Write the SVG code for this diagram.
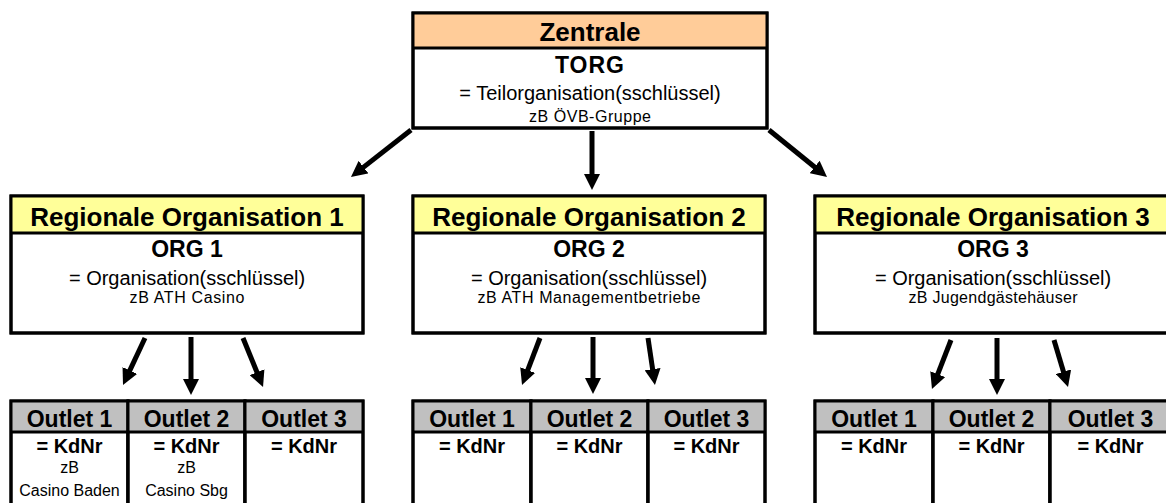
<svg xmlns="http://www.w3.org/2000/svg" width="1166" height="503" viewBox="0 0 1166 503">
  <style>
    text { font-family: "Liberation Sans", Arial, sans-serif; fill: #000; text-anchor: middle; }
    .box { fill: #fff; stroke: #000; stroke-width: 3; }
    .hdrZ { fill: #FFCC99; }
    .hdrR { fill: #FFFF99; }
    .hdrO { fill: #C0C0C0; }
    .sep { stroke: #000; stroke-width: 3; }
    .outline { fill: none; stroke: #000; stroke-width: 3; }
    .title { font-size: 26px; font-weight: bold; }
    .code { font-size: 23px; font-weight: bold; }
    .desc { font-size: 20px; }
    .ex { font-size: 16px; }
    .otitle { font-size: 23px; font-weight: bold; }
    .kd { font-size: 20px; font-weight: bold; }
    .arrow { stroke: #000; stroke-width: 5; fill: none; marker-end: url(#ah); }
  </style>
  <defs>
    <marker id="ah" markerUnits="userSpaceOnUse" markerWidth="16" markerHeight="16" viewBox="0 -8 16 16" refX="4" refY="0" orient="auto">
      <path d="M0,-8 L16,0 L0,8 z" fill="#000"/>
    </marker>
  </defs>

  <g id="zentrale">
    <rect class="box" x="413" y="13" width="354" height="115"/>
    <rect class="hdrZ" x="413" y="13" width="354" height="35"/>
    <line class="sep" x1="413" y1="48" x2="767" y2="48"/>
    <rect class="outline" x="413" y="13" width="354" height="115"/>
    <text class="title" x="590" y="41">Zentrale</text>
    <text class="code" x="590" y="73" letter-spacing="1">TORG</text>
    <text class="desc" x="590" y="100">= Teilorganisation(sschlüssel)</text>
    <text class="ex" x="590" y="122" textLength="122" lengthAdjust="spacing">zB ÖVB-Gruppe</text>
  </g>

  <g id="org1">
    <rect class="box" x="11" y="196" width="352" height="137"/>
    <rect class="hdrR" x="11" y="196" width="352" height="37"/>
    <line class="sep" x1="11" y1="233" x2="363" y2="233"/>
    <rect class="outline" x="11" y="196" width="352" height="137"/>
    <text class="title" x="187" y="226">Regionale Organisation 1</text>
    <text class="code" x="187" y="257">ORG 1</text>
    <text class="desc" x="187" y="285">= Organisation(sschlüssel)</text>
    <text class="ex" x="187" y="303" textLength="115" lengthAdjust="spacing">zB ATH Casino</text>
  </g>

  <g id="org2">
    <rect class="box" x="413" y="196" width="352" height="137"/>
    <rect class="hdrR" x="413" y="196" width="352" height="37"/>
    <line class="sep" x1="413" y1="233" x2="765" y2="233"/>
    <rect class="outline" x="413" y="196" width="352" height="137"/>
    <text class="title" x="589" y="226">Regionale Organisation 2</text>
    <text class="code" x="589" y="257">ORG 2</text>
    <text class="desc" x="589" y="285">= Organisation(sschlüssel)</text>
    <text class="ex" x="589" y="303" textLength="223" lengthAdjust="spacing">zB ATH Managementbetriebe</text>
  </g>

  <g id="org3">
    <rect class="box" x="815" y="196" width="356" height="137"/>
    <rect class="hdrR" x="815" y="196" width="356" height="37"/>
    <line class="sep" x1="815" y1="233" x2="1171" y2="233"/>
    <rect class="outline" x="815" y="196" width="356" height="137"/>
    <text class="title" x="993" y="226">Regionale Organisation 3</text>
    <text class="code" x="993" y="257">ORG 3</text>
    <text class="desc" x="993" y="285">= Organisation(sschlüssel)</text>
    <text class="ex" x="993" y="303" textLength="169" lengthAdjust="spacing">zB Jugendgästehäuser</text>
  </g>

  <!-- Outlets row 1 -->
  <g id="org1-outlet1">
    <rect class="box" x="11" y="401" width="117" height="110"/>
    <rect class="hdrO" x="11" y="401" width="117" height="31"/>
    <line class="sep" x1="11" y1="432" x2="128" y2="432"/>
    <rect class="outline" x="11" y="401" width="117" height="110"/>
    <text class="otitle" x="69.5" y="427">Outlet 1</text>
    <text class="kd" x="69.5" y="453">= KdNr</text>
    <text class="ex" x="69.5" y="473">zB</text>
    <text class="ex" x="69.5" y="496">Casino Baden</text>
  </g>
  <g id="org1-outlet2">
    <rect class="box" x="128" y="401" width="117" height="110"/>
    <rect class="hdrO" x="128" y="401" width="117" height="31"/>
    <line class="sep" x1="128" y1="432" x2="245" y2="432"/>
    <rect class="outline" x="128" y="401" width="117" height="110"/>
    <text class="otitle" x="186.5" y="427">Outlet 2</text>
    <text class="kd" x="186.5" y="453">= KdNr</text>
    <text class="ex" x="186.5" y="473">zB</text>
    <text class="ex" x="186.5" y="496">Casino Sbg</text>
  </g>
  <g id="org1-outlet3">
    <rect class="box" x="245" y="401" width="118" height="110"/>
    <rect class="hdrO" x="245" y="401" width="118" height="31"/>
    <line class="sep" x1="245" y1="432" x2="363" y2="432"/>
    <rect class="outline" x="245" y="401" width="118" height="110"/>
    <text class="otitle" x="304" y="427">Outlet 3</text>
    <text class="kd" x="304" y="453">= KdNr</text>
  </g>

  <!-- Outlets row 2 -->
  <g id="org2-outlet1">
    <rect class="box" x="413" y="401" width="118" height="110"/>
    <rect class="hdrO" x="413" y="401" width="118" height="31"/>
    <line class="sep" x1="413" y1="432" x2="531" y2="432"/>
    <rect class="outline" x="413" y="401" width="118" height="110"/>
    <text class="otitle" x="472" y="427">Outlet 1</text>
    <text class="kd" x="472" y="453">= KdNr</text>
  </g>
  <g id="org2-outlet2">
    <rect class="box" x="531" y="401" width="117" height="110"/>
    <rect class="hdrO" x="531" y="401" width="117" height="31"/>
    <line class="sep" x1="531" y1="432" x2="648" y2="432"/>
    <rect class="outline" x="531" y="401" width="117" height="110"/>
    <text class="otitle" x="589.5" y="427">Outlet 2</text>
    <text class="kd" x="589.5" y="453">= KdNr</text>
  </g>
  <g id="org2-outlet3">
    <rect class="box" x="648" y="401" width="117" height="110"/>
    <rect class="hdrO" x="648" y="401" width="117" height="31"/>
    <line class="sep" x1="648" y1="432" x2="765" y2="432"/>
    <rect class="outline" x="648" y="401" width="117" height="110"/>
    <text class="otitle" x="706.5" y="427">Outlet 3</text>
    <text class="kd" x="706.5" y="453">= KdNr</text>
  </g>

  <!-- Outlets row 3 -->
  <g id="org3-outlet1">
    <rect class="box" x="815" y="401" width="118" height="110"/>
    <rect class="hdrO" x="815" y="401" width="118" height="31"/>
    <line class="sep" x1="815" y1="432" x2="933" y2="432"/>
    <rect class="outline" x="815" y="401" width="118" height="110"/>
    <text class="otitle" x="874" y="427">Outlet 1</text>
    <text class="kd" x="874" y="453">= KdNr</text>
  </g>
  <g id="org3-outlet2">
    <rect class="box" x="933" y="401" width="117" height="110"/>
    <rect class="hdrO" x="933" y="401" width="117" height="31"/>
    <line class="sep" x1="933" y1="432" x2="1050" y2="432"/>
    <rect class="outline" x="933" y="401" width="117" height="110"/>
    <text class="otitle" x="991.5" y="427">Outlet 2</text>
    <text class="kd" x="991.5" y="453">= KdNr</text>
  </g>
  <g id="org3-outlet3">
    <rect class="box" x="1050" y="401" width="121" height="110"/>
    <rect class="hdrO" x="1050" y="401" width="121" height="31"/>
    <line class="sep" x1="1050" y1="432" x2="1171" y2="432"/>
    <rect class="outline" x="1050" y="401" width="121" height="110"/>
    <text class="otitle" x="1110.5" y="427">Outlet 3</text>
    <text class="kd" x="1110.5" y="453">= KdNr</text>
  </g>

  <g id="connectors">
    <line class="arrow" x1="411" y1="130" x2="360.4" y2="169.6"/>
    <line class="arrow" x1="592" y1="131" x2="592" y2="178"/>
    <line class="arrow" x1="769" y1="130" x2="817.7" y2="169.5"/>

    <line class="arrow" x1="145" y1="338" x2="128.1" y2="374.1"/>
    <line class="arrow" x1="191" y1="337" x2="191" y2="383"/>
    <line class="arrow" x1="243" y1="338" x2="258.5" y2="375.9"/>

    <line class="arrow" x1="540" y1="338" x2="526.3" y2="373.8"/>
    <line class="arrow" x1="593" y1="337" x2="593" y2="382"/>
    <line class="arrow" x1="648" y1="338" x2="653.2" y2="373.1"/>

    <line class="arrow" x1="951" y1="340" x2="936.3" y2="377.8"/>
    <line class="arrow" x1="997" y1="338" x2="997" y2="383"/>
    <line class="arrow" x1="1054" y1="340" x2="1064.6" y2="375.5"/>
  </g>
</svg>
